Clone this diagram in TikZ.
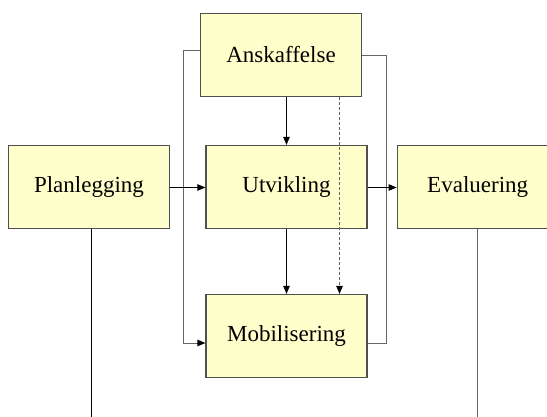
\documentclass[tikz,border=0pt]{standalone}
\usepackage{fontspec}
\setmainfont{Liberation Serif}
\usetikzlibrary{arrows.meta,calc}
\definecolor{boxfill}{HTML}{FFFFCC}
\definecolor{boxline}{HTML}{505050}
\definecolor{linkgray}{HTML}{666666}
\begin{document}
\begin{tikzpicture}[x=1pt,y=1pt,
  box/.style={draw=boxline,line width=1.2pt,fill=boxfill,minimum width=161pt,minimum height=83pt,inner sep=0pt,font=\fontsize{23}{27}\selectfont},
  tip/.style={-{Triangle[length=8pt,width=6.5pt,color=black,fill=black]}},
  arr/.style={line width=0.9pt,tip},
  link/.style={draw=linkgray,line width=1pt},
  dlink/.style={draw=linkgray,line width=0.9pt,dash pattern=on 3pt off 2pt,tip}]
\useasboundingbox (0,0) rectangle (547,-417);
\node[box] (ans) at (281,-55) {Anskaffelse};
\node[box] (pla) at (89,-187) {Planlegging};
\node[box] (utv) at (286.5,-187) {Utvikling};
\node[box] (eva) at (477.7,-187) {Evaluering};
\node[box] (mob) at (286.5,-336) {Mobilisering};
\coordinate (lx) at (183.3,0);
\coordinate (rx) at (386,0);
\coordinate (dx) at (339.5,0);
\coordinate (px) at (91,0);
\coordinate (bot) at (0,-417);
\coordinate (ly) at (0,-50.7);
\coordinate (ry) at (0,-56);
\coordinate (my) at (0,-343);
\coordinate (ay) at (0,-187.5);
% bypass lines
\draw[link,tip] (ans.west |- ly) -- (lx |- ly) -- (lx |- my) -- (mob.west |- my);
\draw[link] (ans.east |- ry) -- (rx |- ry) -- (rx |- my) -- (mob.east |- my);
% main arrows
\draw[arr] (utv.north |- ans.south) -- (utv.north);
\draw[arr] (utv.south) -- (mob.north);
\draw[arr] (pla.east |- ay) -- (utv.west |- ay);
\draw[arr] (utv.east |- ay) -- (eva.west |- ay);
% dashed
\draw[dlink] (dx |- ans.south) -- (dx |- mob.north);
% bottom lines
\draw[line width=1pt] (px |- pla.south) -- (px |- bot);
\draw[link] (eva.south) -- (eva.south |- bot);
\end{tikzpicture}
\end{document}
